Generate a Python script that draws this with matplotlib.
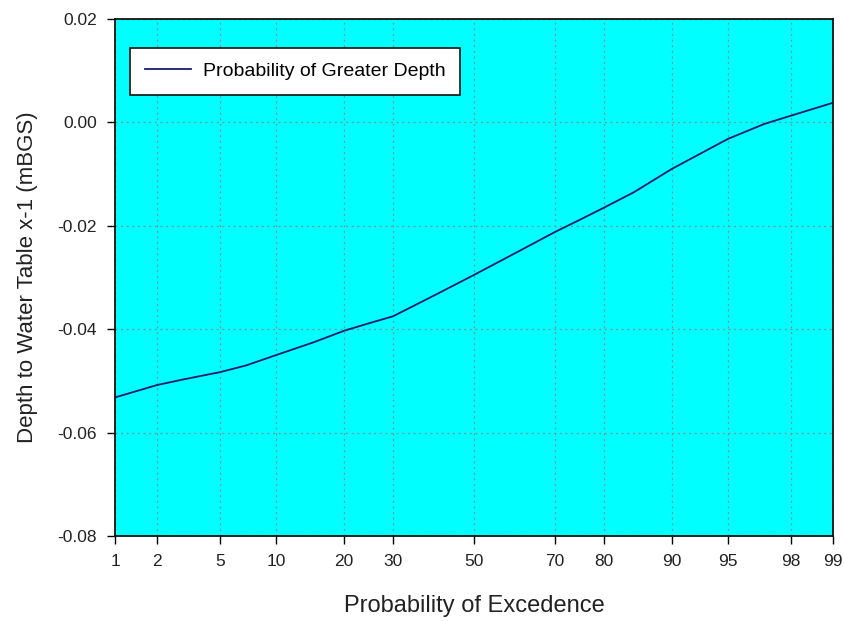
import numpy as np
import matplotlib.pyplot as plt
from statistics import NormalDist

# exceedance probabilities (%) and depth values
exceedance = [1, 2, 3, 5, 7, 10, 15, 20, 25, 30, 40, 50, 60, 70, 75, 80, 85, 90, 95, 97, 98, 99]
depth = [-0.0532, -0.0508, -0.0497, -0.0483, -0.0470, -0.0450, -0.0425, -0.0403, -0.0388,
         -0.0375, -0.0334, -0.0295, -0.0255, -0.0212, -0.0190, -0.0165, -0.0135, -0.0090,
         -0.0032, -0.0003, 0.0013, 0.0038]
x_ticks = [1, 2, 5, 10, 20, 30, 50, 70, 80, 90, 95, 98, 99]
y_ticks = [-0.08, -0.06, -0.04, -0.02, 0.00, 0.02]

nd = NormalDist()


def to_probit(p):
    p = np.clip(np.asarray(p, dtype=float), 1e-6, 100 - 1e-6)
    return np.array([nd.inv_cdf(v / 100.0) for v in p.ravel()]).reshape(p.shape)


def from_probit(z):
    z = np.asarray(z, dtype=float)
    return np.array([nd.cdf(v) * 100.0 for v in z.ravel()]).reshape(z.shape)


plt.rcParams['font.family'] = ['Liberation Sans', 'DejaVu Sans']

fig = plt.figure(figsize=(8.44, 6.21), dpi=100)
ax = fig.add_axes([0.1363, 0.1369, 0.8507, 0.8325])
ax.set_facecolor('#00FFFF')

ax.set_xscale('function', functions=(to_probit, from_probit))
ax.plot(exceedance, depth, color='#1c1c6a', lw=1.3, label='Probability of Greater Depth')

ax.set_xlim(1, 99)
ax.set_ylim(-0.08, 0.02)
ax.set_xticks(x_ticks)
ax.set_xticklabels([str(t) for t in x_ticks])
ax.set_yticks(y_ticks)
ax.set_yticklabels(['-0.08', '-0.06', '-0.04', '-0.02', '0.00', '0.02'])
ax.xaxis.set_minor_locator(plt.NullLocator())

ax.grid(True, color='#7f9090', linestyle=(0, (1.5, 3)), lw=0.9)
ax.tick_params(direction='out', length=6, width=1, labelsize=12.5, pad=7,
               colors='black', labelcolor='#222222')
for s in ax.spines.values():
    s.set_linewidth(1.3)
    s.set_color('#111111')

ax.set_xlabel('Probability of Excedence', fontsize=17, labelpad=19, color='#222222')
ax.set_ylabel('Depth to Water Table x-1 (mBGS)', fontsize=16, labelpad=14, color='#222222')

leg = ax.legend(loc='upper left', bbox_to_anchor=(0.021, 0.944), fontsize=14, fancybox=False,
                framealpha=1, edgecolor='#111111', borderpad=0.75, handlelength=2.4,
                handletextpad=0.6, borderaxespad=0)
leg.get_frame().set_linewidth(1.2)

fig.savefig('out.png', dpi=100)
